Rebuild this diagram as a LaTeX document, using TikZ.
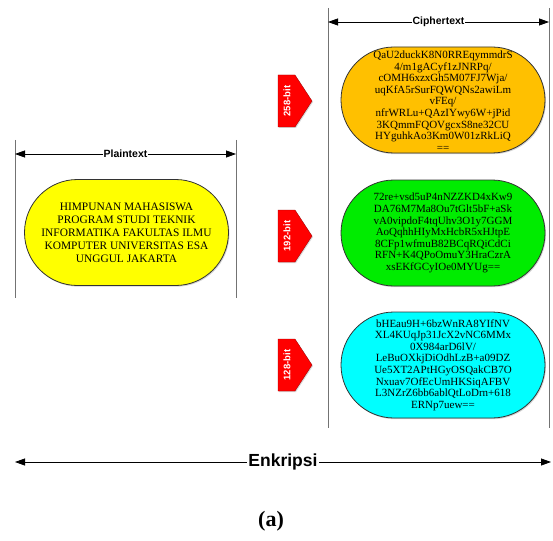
\documentclass[tikz,border=0pt]{standalone}
\usepackage{fontspec}
\setmainfont{Liberation Serif}
\setsansfont{Liberation Sans}
\usetikzlibrary{arrows.meta,shapes.misc,shadows}

\definecolor{plainyellow}{RGB}{255,255,0}
\definecolor{cipherorange}{RGB}{255,192,0}
\definecolor{ciphergreen}{RGB}{0,236,0}
\definecolor{ciphercyan}{RGB}{0,255,255}
\definecolor{flagred}{RGB}{255,0,0}

\tikzset{
    stadium/.style={rounded rectangle, draw=black!80, line width=0.8pt,
        minimum width=204pt, minimum height=106pt, inner sep=0pt,
        drop shadow={shadow xshift=1pt, shadow yshift=-1.2pt, opacity=0.35}},
    ciphertext/.style={align=center, font=\fontsize{11}{11.6}\selectfont},
    plaintext/.style={align=center, font=\fontsize{11.4}{13}\selectfont},
    bitflag/.style={fill=flagred, draw=flagred!60!black, line width=0.3pt,
        drop shadow={shadow xshift=1pt, shadow yshift=-1pt, opacity=0.3}},
    bittext/.style={rotate=90, text=white, inner sep=0pt,
        font=\sffamily\bfseries\fontsize{9.5}{10}\selectfont},
    guide/.style={draw=black!55, line width=1pt},
    dimarrow/.style={{Triangle[length=10pt,width=7pt]}-{Triangle[length=10pt,width=7pt]}, line width=0.8pt},
    dimlabel/.style={fill=white, inner sep=1pt, font=\sffamily\bfseries\fontsize{10.5}{11}\selectfont}
}

% red key-size flag pointing right, centred on its text node
\newcommand\keyflag[3]{%
    \node[bittext] (#1) at (287,#2) {#3};
    \begin{pgfonlayer}{background}
    \path[bitflag] ([shift={(-9,-26)}]#1.center) -- ([shift={(8,-26)}]#1.center)
        -- ([shift={(25,0)}]#1.center) -- ([shift={(8,26)}]#1.center)
        -- ([shift={(-9,26)}]#1.center) -- cycle;
    \end{pgfonlayer}
}
\pgfdeclarelayer{background}
\pgfsetlayers{background,main}

\begin{document}
\begin{tikzpicture}[x=1pt, y=-1pt]
    \useasboundingbox (0,0) rectangle (553,540);

    % plaintext side
    \coordinate (pl-t1) at (15,140);
    \coordinate (pl-b1) at (15,298);
    \coordinate (pl-t2) at (236,140);
    \coordinate (pl-b2) at (236,298);
    \draw[guide] (pl-t1) -- (pl-b1);
    \draw[guide] (pl-t2) -- (pl-b2);
    \coordinate (pl-l) at (15,154);
    \coordinate (pl-r) at (236,154);
    \draw[dimarrow] (pl-l) -- node[dimlabel] (pl-label) {Plaintext} (pl-r);

    \node[stadium, fill=plainyellow] (plain) at (126.5,232.5) {};
    \node[plaintext] (plain-txt) at (plain.center) {HIMPUNAN MAHASISWA\\PROGRAM STUDI TEKNIK\\INFORMATIKA FAKULTAS ILMU\\KOMPUTER UNIVERSITAS ESA\\UNGGUL JAKARTA};

    % ciphertext side
    \coordinate (ci-t1) at (328,8);
    \coordinate (ci-b1) at (328,428);
    \coordinate (ci-t2) at (549,8);
    \coordinate (ci-b2) at (549,428);
    \draw[guide] (ci-t1) -- (ci-b1);
    \draw[guide] (ci-t2) -- (ci-b2);
    \coordinate (ci-l) at (328,22);
    \coordinate (ci-r) at (549,22);
    \draw[dimarrow] (ci-l) -- node[dimlabel] (ci-label) {Ciphertext} (ci-r);

    \node[stadium, fill=cipherorange] (c258) at (443,100) {};
    \node[ciphertext] (c258-txt) at (443,101) {QaU2duckK8N0RREqymmdrS\\4/m1gACyf1zJNRPq/\\cOMH6xzxGh5M07FJ7Wja/\\uqKfA5rSurFQWQNs2awiLm\\vFEq/\\nfrWRLu+QAzIYwy6W+jPid\\3KQmmFQOVgcxS8ne32CU\\HYguhkAo3Km0W01zRkLiQ\\==};

    \node[stadium, fill=ciphergreen] (c192) at (443,233) {};
    \node[ciphertext] (c192-txt) at (c192.center) {72re+vsd5uP4nNZZKD4xKw9\\DA76M7Ma8Ou7tGlt5bF+aSk\\vA0vipdoF4tqUhv3O1y7GGM\\AoQqhhHIyMxHcbR5xHJtpE\\8CFp1wfmuB82BCqRQiCdCi\\RFN+K4QPoOmuY3HraCzrA\\xsEKfGCyIOe0MYUg==};

    \node[stadium, fill=ciphercyan] (c128) at (443,365) {};
    \node[ciphertext] (c128-txt) at (c128.center) {bHEau9H+6bzWnRA8YIfNV\\XL4KUqJp31JcX2vNC6MMx\\0X984arD6lV/\\LeBuOXkjDiOdhLzB+a09DZ\\Ue5XT2APtHGyOSQakCB7O\\Nxuav7OfEcUmHKSiqAFBV\\L3NZrZ6bb6ablQtLoDrn+618\\ERNp7uew==};

    % key sizes
    \keyflag{f258}{101}{258-bit}
    \keyflag{f192}{236}{192-bit}
    \keyflag{f128}{365}{128-bit}

    % bottom
    \coordinate (en-l) at (15,462);
    \coordinate (en-r) at (551,462);
    \draw[dimarrow] (en-l) -- node[dimlabel, font=\sffamily\bfseries\fontsize{17.5}{18}\selectfont] (en-label) {Enkripsi} (en-r);

    \node[font=\fontsize{22}{24}\selectfont\bfseries] (caption) at (271,521) {(a)};
\end{tikzpicture}
\end{document}
